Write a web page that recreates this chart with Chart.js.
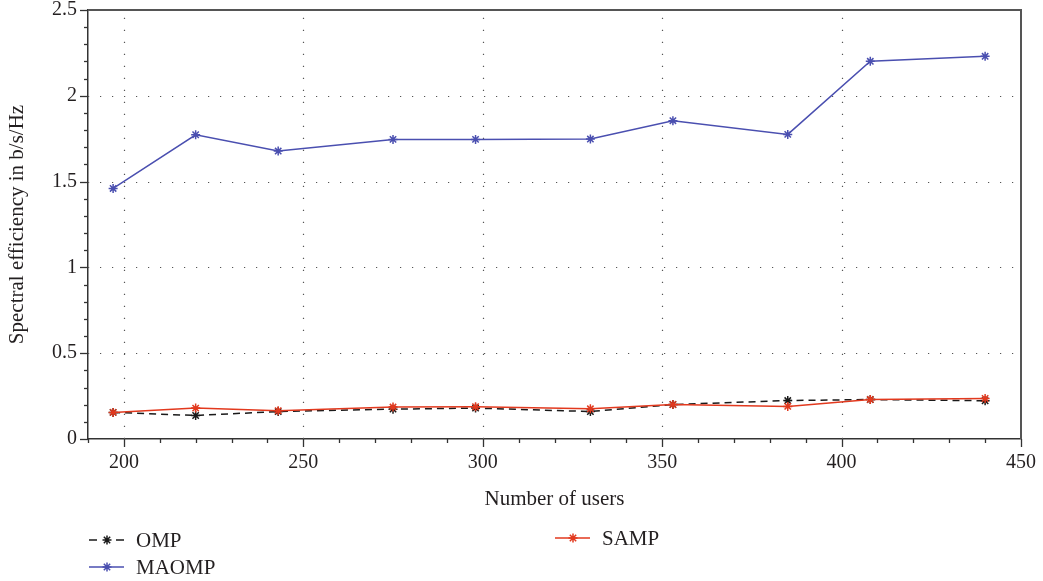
<!DOCTYPE html>
<html>
<head>
<meta charset="utf-8">
<title>Spectral efficiency</title>
<script src="https://cdn.jsdelivr.net/npm/chart.js@4/dist/chart.umd.min.js"></script>
<style>
  body { margin: 0; background: #fff; }
  #wrap { width: 1043px; height: 581px; }
</style>
</head>
<body>
<div id="wrap"><canvas id="lineChart" width="1043" height="581"></canvas></div>
<script>
// values
var users        = [197, 220, 243, 275, 298, 330, 353, 385, 408, 440];
var ompValues    = [0.155, 0.137, 0.160, 0.174, 0.180, 0.160, 0.201, 0.224, 0.230, 0.223];
var maompValues  = [1.460, 1.773, 1.678, 1.746, 1.746, 1.748, 1.855, 1.775, 2.201, 2.230];
var sampValues   = [0.155, 0.180, 0.165, 0.186, 0.188, 0.176, 0.201, 0.190, 0.230, 0.236];
var xTickLabels  = [200, 250, 300, 350, 400, 450];
var yTickLabels  = [0, 0.5, 1, 1.5, 2, 2.5];

var FONT = "'Liberation Serif', 'DejaVu Serif', serif";
var TEXT = '#231f20';

function toPoints(values) {
    return values.map(function (v, i) { return {x: users[i], y: v}; });
}

function isLabelY(v) {
    return yTickLabels.some(function (t) { return Math.abs(t - v) < 1e-6; });
}

function drawStar(ctx, x, y, r) {
    ctx.beginPath();
    for (var k = 0; k < 4; k++) {
        var a = k * Math.PI / 4;
        ctx.moveTo(x - r * Math.cos(a), y - r * Math.sin(a));
        ctx.lineTo(x + r * Math.cos(a), y + r * Math.sin(a));
    }
    ctx.stroke();
}

// dotted grid, outside tick marks, box border
var framePlugin = {
    id: 'frame',
    beforeDatasetsDraw: function (chart) {
        var ctx = chart.ctx, a = chart.chartArea;
        var xs = chart.scales.x, ys = chart.scales.y;
        ctx.save();
        ctx.strokeStyle = '#555';
        ctx.lineWidth = 1.2;
        ctx.setLineDash([1.2, 10.8]);
        xTickLabels.forEach(function (v) {
            var px = Math.round(xs.getPixelForValue(v)) + 0.5;
            if (px > a.right - 2) return;
            ctx.beginPath(); ctx.moveTo(px, a.bottom); ctx.lineTo(px, a.top); ctx.stroke();
        });
        yTickLabels.forEach(function (v) {
            var py = Math.round(ys.getPixelForValue(v)) + 0.5;
            if (py > a.bottom - 2 || py < a.top + 2) return;
            ctx.beginPath(); ctx.moveTo(a.left, py); ctx.lineTo(a.right, py); ctx.stroke();
        });
        ctx.restore();
    },
    afterDraw: function (chart) {
        var ctx = chart.ctx, a = chart.chartArea;
        var xs = chart.scales.x, ys = chart.scales.y;
        ctx.save();
        ctx.strokeStyle = '#333';
        ctx.lineWidth = 1.3;
        xs.ticks.forEach(function (t) {
            var px = Math.round(xs.getPixelForValue(t.value)) + 0.5;
            var len = xTickLabels.indexOf(t.value) >= 0 ? 8 : 4;
            ctx.beginPath(); ctx.moveTo(px, a.bottom); ctx.lineTo(px, a.bottom + len); ctx.stroke();
        });
        ys.ticks.forEach(function (t) {
            var py = Math.round(ys.getPixelForValue(t.value)) + 0.5;
            var len = isLabelY(t.value) ? 8 : 4;
            ctx.beginPath(); ctx.moveTo(a.left, py); ctx.lineTo(a.left - len, py); ctx.stroke();
        });
        ctx.strokeStyle = '#555';
        ctx.lineWidth = 2;
        ctx.beginPath();
        ctx.moveTo(a.left, a.top); ctx.lineTo(a.right, a.top); ctx.lineTo(a.right, a.bottom);
        ctx.stroke();
        ctx.restore();
    }
};

// legend laid out in two columns as in the picture
var legendPlugin = {
    id: 'sideLegend',
    afterDraw: function (chart) {
        var ctx = chart.ctx;
        var slots = [
            {i: 0, x: 89, y: 540},
            {i: 2, x: 555, y: 538},
            {i: 1, x: 89, y: 567}
        ];
        ctx.save();
        slots.forEach(function (s) {
            var ds = chart.data.datasets[s.i];
            ctx.strokeStyle = ds.borderColor;
            ctx.lineWidth = 1.5;
            ctx.setLineDash(ds.borderDash ? [8, 19] : []);
            ctx.beginPath(); ctx.moveTo(s.x, s.y); ctx.lineTo(s.x + 35, s.y); ctx.stroke();
            ctx.setLineDash([]);
            ctx.strokeStyle = ds.pointBorderColor;
            drawStar(ctx, s.x + 18, s.y, 4.5);
            ctx.fillStyle = TEXT;
            ctx.font = '21px ' + FONT;
            ctx.textBaseline = 'middle';
            ctx.fillText(ds.label, s.x + 47, s.y + 1);
        });
        ctx.restore();
    }
};

function loadChart() {
    var canvas = document.getElementById('lineChart').getContext('2d');
    var lineData = {
        datasets: [
            {
                label: 'OMP',
                data: toPoints(ompValues),
                borderColor: '#1a1a1a',
                pointBorderColor: '#1a1a1a',
                borderDash: [7, 5],
                order: 2
            },
            {
                label: 'MAOMP',
                data: toPoints(maompValues),
                borderColor: '#4a4fb0',
                pointBorderColor: '#4a4fb0',
                order: 1
            },
            {
                label: 'SAMP',
                data: toPoints(sampValues),
                borderColor: '#e2391e',
                pointBorderColor: '#e2391e',
                order: 0
            }
        ]
    };
    var lineOptions = {
        responsive: false,
        animation: false,
        layout: { padding: { left: 0, top: 10, right: 22, bottom: 68 } },
        elements: {
            line: { borderWidth: 1.5, tension: 0 },
            point: { pointStyle: 'star', radius: 4.5, borderWidth: 1.5 }
        },
        plugins: { legend: { display: false }, tooltip: { enabled: false } },
        scales: {
            x: {
                type: 'linear',
                min: 190,
                max: 450,
                afterFit: function (scale) {
                    scale.height = 74;
                    scale.paddingLeft = 0;
                    scale.paddingRight = 0;
                },
                grid: { display: false, drawTicks: false },
                border: { display: true, color: '#333', width: 1.5 },
                ticks: {
                    stepSize: 10,
                    autoSkip: false,
                    maxRotation: 0,
                    padding: 12,
                    color: TEXT,
                    font: { family: FONT, size: 20 },
                    callback: function (v) { return xTickLabels.indexOf(v) >= 0 ? String(v) : ''; }
                },
                title: {
                    display: true,
                    text: 'Number of users',
                    color: TEXT,
                    font: { family: FONT, size: 21 },
                    padding: { top: 4, bottom: 1 }
                }
            },
            y: {
                min: 0,
                max: 2.5,
                afterFit: function (scale) {
                    scale.width = 88;
                    scale.paddingTop = 0;
                    scale.paddingBottom = 0;
                },
                grid: { display: false, drawTicks: false },
                border: { display: true, color: '#333', width: 1.5 },
                ticks: {
                    stepSize: 0.1,
                    autoSkip: false,
                    padding: 11,
                    color: TEXT,
                    font: { family: FONT, size: 20 },
                    callback: function (v) { return isLabelY(v) ? String(Math.round(v * 10) / 10) : ''; }
                },
                title: {
                    display: true,
                    text: 'Spectral efficiency in b/s/Hz',
                    color: TEXT,
                    font: { family: FONT, size: 21 },
                    padding: { top: 5, bottom: 0 }
                }
            }
        }
    };
    var lineChart = new Chart(canvas, {
        type: 'line',
        data: lineData,
        options: lineOptions,
        plugins: [framePlugin, legendPlugin]
    });
}

loadChart();
</script>
</body>
</html>
